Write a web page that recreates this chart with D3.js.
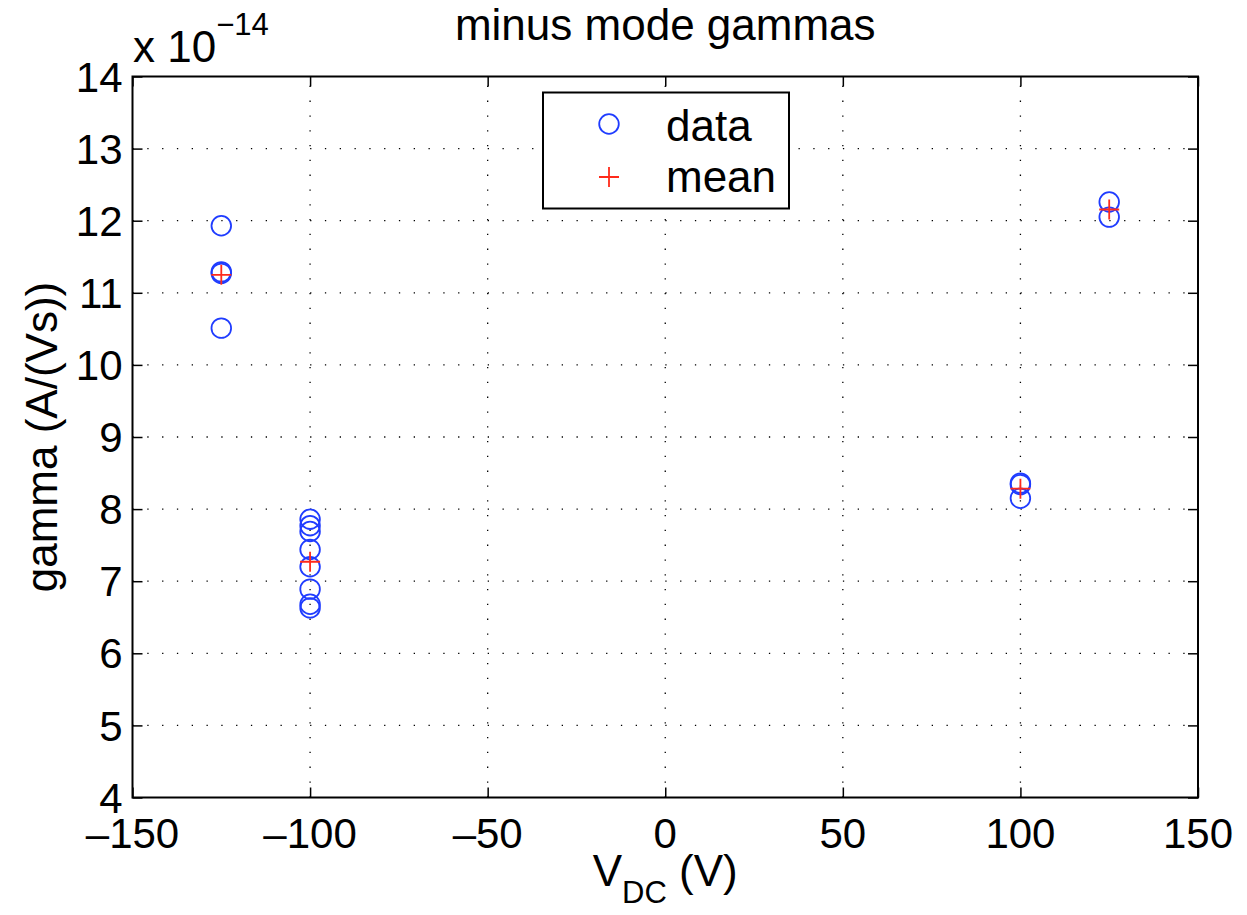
<!DOCTYPE html>
<html>
<head>
<meta charset="utf-8">
<script src="https://cdn.jsdelivr.net/npm/d3@7"></script>
<style>
  html, body { margin: 0; padding: 0; background: #fff; }
  svg { display: block; font-family: "Liberation Sans", Arial, Helvetica, sans-serif; }
</style>
</head>
<body>
<svg id="chart" width="1247" height="915"></svg>
<script>
// Bias voltages (V) and measured gammas (in units of 1e-14 A/(Vs)) per voltage
const vdcLevels = [-125, -100, 100, 125];
const gammaAtM125 = [11.93, 11.29, 11.27, 10.51];
const gammaAtM100 = [7.86, 7.77, 7.69, 7.44, 7.20, 6.89, 6.68, 6.63];
const gammaAtP100 = [8.36, 8.34, 8.15];
const gammaAtP125 = [12.26, 12.05];
const gammaGroups = [gammaAtM125, gammaAtM100, gammaAtP100, gammaAtP125];

const xTicks = [-150, -100, -50, 0, 50, 100, 150];
const yTicks = [4, 5, 6, 7, 8, 9, 10, 11, 12, 13, 14];

const points = [];
vdcLevels.forEach((v, i) => gammaGroups[i].forEach(g => points.push({ v, g })));
const means = vdcLevels.map((v, i) => ({ v, g: d3.mean(gammaGroups[i]) }));

const svg = d3.select("#chart");
const plot = { left: 132.5, right: 1198, top: 76.5, bottom: 797.5 };

const x = d3.scaleLinear().domain([-150, 150]).range([plot.left, plot.right]);
const y = d3.scaleLinear().domain([4, 14]).range([plot.bottom, plot.top]);

const tickFont = 42, labelFont = 44;
const tickLen = 10;
const minusFmt = d => (d < 0 ? "\u2013" + Math.abs(d) : String(d));

// dotted grid
const grid = svg.append("g").attr("stroke", "#000").attr("stroke-width", 1.3)
  .attr("stroke-dasharray", "1.3,13.5");
grid.selectAll("line.gx").data(xTicks.slice(1, -1)).join("line")
  .attr("x1", d => x(d)).attr("x2", d => x(d))
  .attr("y1", plot.bottom).attr("y2", plot.top);
grid.selectAll("line.gy").data(yTicks.slice(1, -1)).join("line")
  .attr("y1", d => y(d)).attr("y2", d => y(d))
  .attr("x1", plot.left).attr("x2", plot.right);

// inward ticks on all four sides using d3 axes
const axStyle = g => {
  g.select(".domain").remove();
  g.selectAll(".tick line").attr("stroke", "#000").attr("stroke-width", 1.5);
  g.selectAll(".tick text").remove();
};
svg.append("g").attr("transform", `translate(0,${plot.bottom})`)
  .call(d3.axisTop(x).tickValues(xTicks).tickSize(tickLen)).call(axStyle);
svg.append("g").attr("transform", `translate(0,${plot.top})`)
  .call(d3.axisBottom(x).tickValues(xTicks).tickSize(tickLen)).call(axStyle);
svg.append("g").attr("transform", `translate(${plot.left},0)`)
  .call(d3.axisRight(y).tickValues(yTicks).tickSize(tickLen)).call(axStyle);
svg.append("g").attr("transform", `translate(${plot.right},0)`)
  .call(d3.axisLeft(y).tickValues(yTicks).tickSize(tickLen)).call(axStyle);

// axes box
svg.append("rect")
  .attr("x", plot.left).attr("y", plot.top)
  .attr("width", plot.right - plot.left).attr("height", plot.bottom - plot.top)
  .attr("fill", "none").attr("stroke", "#000").attr("stroke-width", 2);

// tick labels
svg.append("g").selectAll("text").data(xTicks).join("text")
  .attr("x", d => x(d)).attr("y", plot.bottom + 50)
  .attr("text-anchor", "middle").attr("font-size", tickFont)
  .text(minusFmt);
svg.append("g").selectAll("text").data(yTicks).join("text")
  .attr("x", plot.left - 10).attr("y", d => y(d) + tickFont * 0.36)
  .attr("text-anchor", "end").attr("font-size", tickFont)
  .text(d => d);

// exponent multiplier
const mult = svg.append("text").attr("x", 133).attr("y", 62).attr("font-size", labelFont);
mult.append("tspan").text("x 10");
mult.append("tspan").attr("dy", -27).attr("font-size", 31).text("\u221214");

// title and axis labels
svg.append("text").attr("x", (plot.left + plot.right) / 2).attr("y", 40)
  .attr("text-anchor", "middle").attr("font-size", labelFont).text("minus mode gammas");

const xl = svg.append("text").attr("x", (plot.left + plot.right) / 2).attr("y", 886)
  .attr("text-anchor", "middle").attr("font-size", labelFont);
xl.append("tspan").text("V");
xl.append("tspan").attr("dy", 17).attr("font-size", 31).text("DC");
xl.append("tspan").attr("dy", -17).text(" (V)");

svg.append("text")
  .attr("transform", `translate(57,${(plot.top + plot.bottom) / 2}) rotate(-90)`)
  .attr("text-anchor", "middle").attr("font-size", labelFont)
  .text("gamma (A/(Vs))");

// markers
const blue = "#1f3cff", red = "#ff2a1a";
const crossPath = (cx, cy, r) => `M${cx - r},${cy}H${cx + r}M${cx},${cy - r}V${cy + r}`;

svg.append("g").selectAll("circle").data(points).join("circle")
  .attr("cx", d => x(d.v)).attr("cy", d => y(d.g)).attr("r", 9.8)
  .attr("fill", "none").attr("stroke", blue).attr("stroke-width", 1.8);

svg.append("g").selectAll("path").data(means).join("path")
  .attr("d", d => crossPath(x(d.v), y(d.g), 10))
  .attr("fill", "none").attr("stroke", red).attr("stroke-width", 1.8);

// legend
const lg = svg.append("g");
lg.append("rect").attr("x", 543).attr("y", 92.5).attr("width", 246).attr("height", 116)
  .attr("fill", "#fff").attr("stroke", "#000").attr("stroke-width", 2);
lg.append("circle").attr("cx", 609).attr("cy", 124).attr("r", 9.8)
  .attr("fill", "none").attr("stroke", blue).attr("stroke-width", 1.8);
lg.append("path").attr("d", crossPath(609, 177, 10))
  .attr("fill", "none").attr("stroke", red).attr("stroke-width", 1.8);
lg.append("text").attr("x", 666).attr("y", 141).attr("font-size", labelFont).text("data");
lg.append("text").attr("x", 666).attr("y", 192).attr("font-size", labelFont).text("mean");
</script>
</body>
</html>
